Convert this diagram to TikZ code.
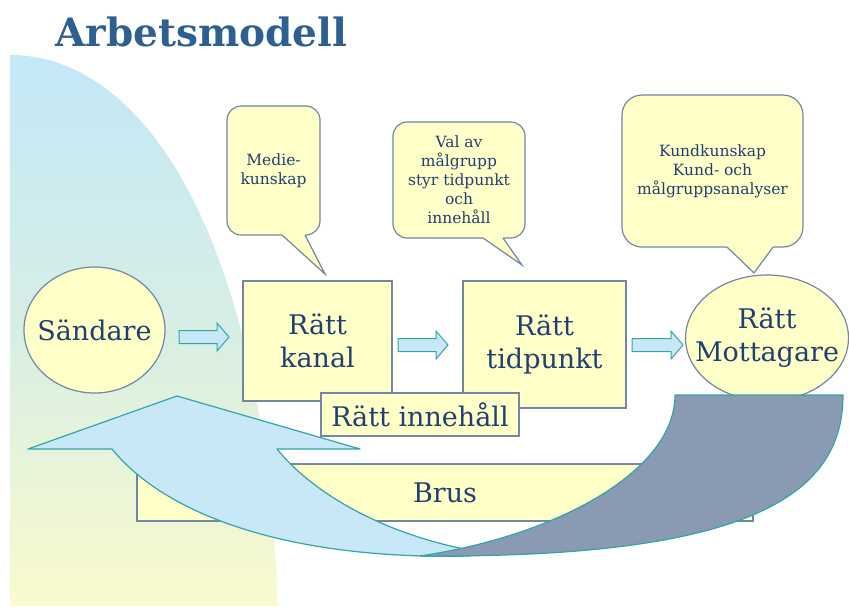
\documentclass[tikz,border=0pt]{standalone}
\usepackage{fontspec}
\newfontfamily\slabfont{DejaVu Serif}
\usetikzlibrary{shapes.geometric}
\definecolor{txt}{RGB}{32,64,115}
\definecolor{ttl}{RGB}{46,95,145}
\definecolor{yel}{RGB}{255,255,200}
\definecolor{edge}{RGB}{115,135,165}
\definecolor{tealline}{RGB}{50,165,170}
\definecolor{skyf}{RGB}{200,232,248}
\definecolor{slate}{RGB}{138,154,178}
\definecolor{bgtop}{RGB}{195,232,248}
\definecolor{bgbot}{RGB}{250,250,205}
\tikzset{
  mainbox/.style={draw=edge, line width=1.2pt, fill=yel, text=txt,
    font=\slabfont\fontsize{27}{33}\selectfont, align=center, inner sep=0pt},
  mainell/.style={mainbox, ellipse, inner xsep=-20pt, inner ysep=0pt},
  callbox/.style={draw=edge, line width=1.2pt, fill=yel, rounded corners=14pt,
    text=txt, font=\slabfont\fontsize{15.5}{19}\selectfont, align=center, inner sep=0pt},
  tailfill/.style={fill=yel},
  tailline/.style={draw=edge, line width=1.2pt, line join=miter},
  bandstyle/.style={draw=tealline, line width=1.2pt, line join=round},
  blockarrow/.pic={\draw[draw=tealline, line width=1pt, fill=skyf]
    (0,-6.5) -- (#1-12,-6.5) -- (#1-12,-14) -- (#1,0) -- (#1-12,14) -- (#1-12,6.5) -- (0,6.5) -- cycle;}
}
\begin{document}
\begin{tikzpicture}[x=1pt,y=-1pt]
\useasboundingbox (0,0) rectangle (849,606);
\fill[white] (0,0) rectangle (849,606);
% background sweep
\shade[top color=bgtop, bottom color=bgbot, middle color={rgb,255:red,215;green,238;blue,228}]
  (10,606) -- (10,55) .. controls (150,55) and (265,250) .. (278,606) -- cycle;
% title
\node[font=\slabfont\bfseries\fontsize{39}{42}\selectfont, text=ttl, anchor=base west, inner sep=0pt]
  (title) at (55,46) {Arbetsmodell};
% callouts
\node[callbox, minimum width=93pt, minimum height=129pt] (c1) at (273.5,170.5) {Medie-\\kunskap};
\fill[tailfill] (282,232.5) -- (282,235) -- (325,274) -- (305,235) -- (305,232.5) -- cycle;
\draw[tailline] (282,235) -- (325,274) -- (305,235);
\node[callbox, minimum width=132pt, minimum height=116pt] (c2) at (459,180) {Val av\\målgrupp\\styr tidpunkt\\och\\innehåll};
\fill[tailfill] (483,235.5) -- (483,238) -- (522,265) -- (503,238) -- (503,235.5) -- cycle;
\draw[tailline] (483,238) -- (522,265) -- (503,238);
\node[callbox, minimum width=181pt, minimum height=152pt, rounded corners=20pt] (c3) at (712.5,171) {Kundkunskap\\Kund- och\\målgruppsanalyser};
\fill[tailfill] (727,244.5) -- (727,247) -- (754,273) -- (773,247) -- (773,244.5) -- cycle;
\draw[tailline] (727,247) -- (754,273) -- (773,247);
% main nodes
\node[mainell, minimum width=141pt, minimum height=126pt] (sand) at (94.5,330) {Sändare};
\node[mainbox, minimum width=149pt, minimum height=120pt] (kanal) at (317.5,341) {Rätt\\kanal};
\node[mainbox, minimum width=163pt, minimum height=127pt] (tid) at (544.5,344.5) {Rätt\\tidpunkt};
\node[mainell, minimum width=163pt, minimum height=126pt] (mott) at (767,338) {Rätt\\Mottagare};
\node[mainbox, minimum width=198pt, minimum height=43pt] (inneh) at (420,414.5) {Rätt innehåll};
\node[mainbox, minimum width=616pt, minimum height=57pt] (brus) at (445,492.5) {Brus};
% block arrows
\pic at (179,337) {blockarrow=50};
\pic at (398,345) {blockarrow=50};
\pic at (632,345) {blockarrow=51};
% curved return arrow
\draw[bandstyle, fill=skyf] (112,449) -- (28,449) -- (177,396) -- (360,449) -- (277,449)
  .. controls (310,490) and (380,535) .. (480,552) -- (470,556)
  .. controls (300,560) and (170,520) .. (112,449) -- cycle;
\draw[bandstyle, fill=slate] (675,395) -- (843,395)
  .. controls (843,490) and (760,556) .. (440,556) -- (420,556)
  .. controls (560,535) and (675,470) .. (675,395) -- cycle;
\end{tikzpicture}
\end{document}
